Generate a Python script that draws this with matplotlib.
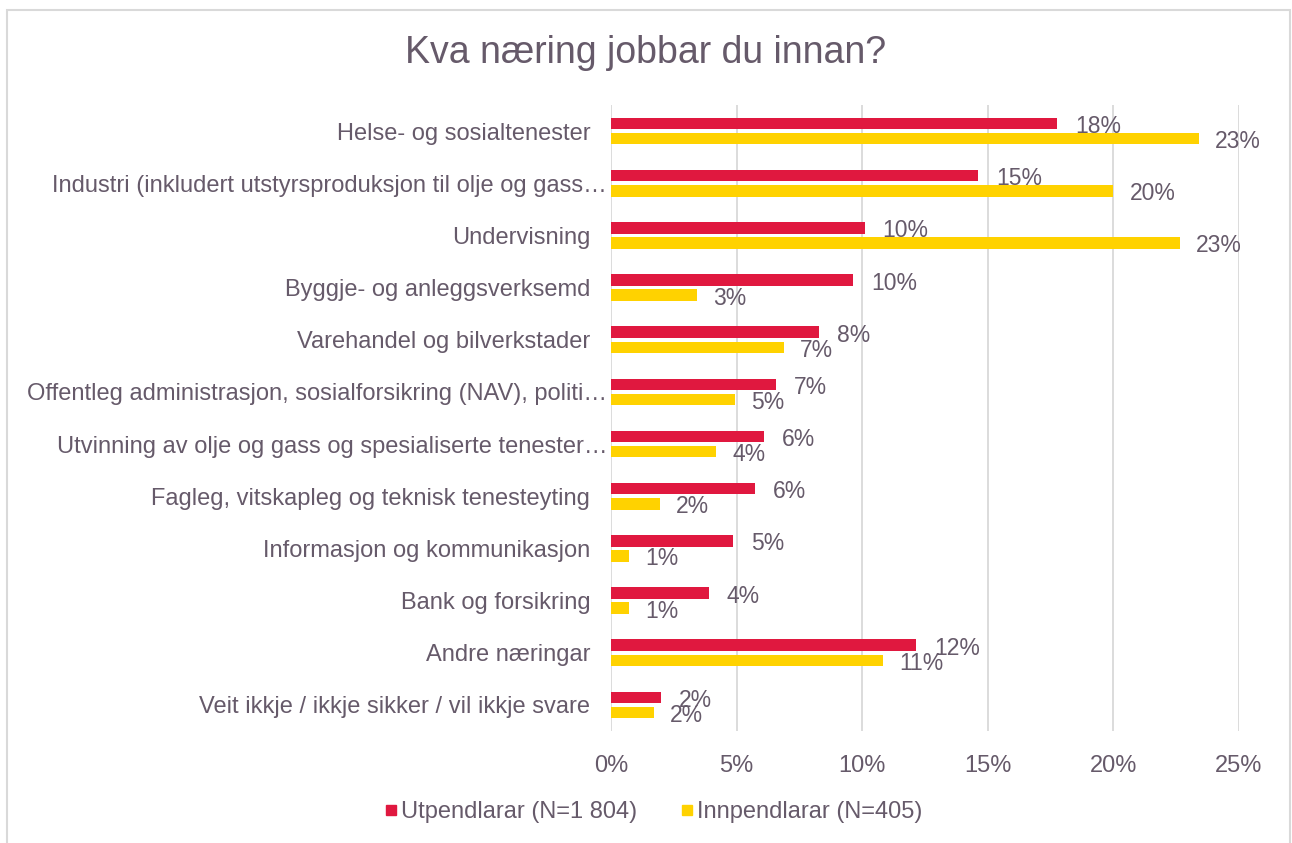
import numpy as np
import matplotlib
matplotlib.use("Agg")
import matplotlib.pyplot as plt
from matplotlib.patches import Rectangle
from matplotlib.lines import Line2D
from matplotlib.transforms import ScaledTranslation

plt.rcParams['font.family'] = ['Liberation Sans', 'DejaVu Sans']

# data (share of respondents)
kategoriar = [
    "Helse- og sosialtenester",
    "Industri (inkludert utstyrsproduksjon til olje og gass…",
    "Undervisning",
    "Byggje- og anleggsverksemd",
    "Varehandel og bilverkstader",
    "Offentleg administrasjon, sosialforsikring (NAV), politi…",
    "Utvinning av olje og gass og spesialiserte tenester…",
    "Fagleg, vitskapleg og teknisk tenesteyting",
    "Informasjon og kommunikasjon",
    "Bank og forsikring",
    "Andre næringar",
    "Veit ikkje / ikkje sikker / vil ikkje svare",
]
utpendlarar = [17.75, 14.6, 10.1, 9.63, 8.28, 6.57, 6.09, 5.73, 4.86, 3.9, 12.14, 1.99]
innpendlarar = [23.4, 20.0, 22.65, 3.42, 6.89, 4.94, 4.18, 1.95, 0.72, 0.72, 10.83, 1.71]
serienamn = ["Utpendlarar (N=1 804)", "Innpendlarar (N=405)"]
xticks = [0, 5, 10, 15, 20, 25]

RED = "#E0183F"
YEL = "#FFD200"
TXT = "#665a6a"
GRID = "#d9d9d9"

fig = plt.figure(figsize=(12.92, 8.43), dpi=100)
fig.patches.append(Rectangle((7 / 1292, -0.01), 1283 / 1292, 1 - 10 / 843 + 0.01,
                             transform=fig.transFigure, fill=False,
                             edgecolor=GRID, linewidth=1.5))

ax = fig.add_axes([611 / 1292, 1 - 731 / 843, (1239 - 611) / 1292, (731 - 105) / 843])

y = np.arange(len(kategoriar))
h = 0.22
ax.barh(y - 0.145, utpendlarar, height=h, color=RED, zorder=3)
ax.barh(y + 0.145, innpendlarar, height=h, color=YEL, zorder=3)

for i in range(len(kategoriar)):
    ax.annotate(f"{round(utpendlarar[i]):.0f}%", (utpendlarar[i], y[i] - 0.145),
                xytext=(18, -3), textcoords='offset pixels', va='center', ha='left',
                fontsize=16.5, color=TXT)
    ax.annotate(f"{round(innpendlarar[i]):.0f}%", (innpendlarar[i], y[i] + 0.145),
                xytext=(16, -3), textcoords='offset pixels', va='center', ha='left',
                fontsize=16.5, color=TXT)

ax.set_ylim(len(kategoriar) - 0.5, -0.5)
ax.set_xlim(0, 25)
ax.set_yticks(y)
ax.set_yticklabels(kategoriar, fontsize=17, color=TXT)
ax.set_xticks(xticks)
ax.set_xticklabels([f"{t}%" for t in xticks], fontsize=17, color=TXT)
ax.tick_params(axis='y', length=0, pad=15)
ax.tick_params(axis='x', length=0, pad=17)
for s in ax.spines.values():
    s.set_visible(False)
ax.xaxis.grid(True, color=GRID, linewidth=1.3, zorder=0)
ax.set_axisbelow(True)

# truncated labels sit closer to the axis, like in Excel
for lab in ax.get_yticklabels():
    if lab.get_text().endswith("…"):
        lab.set_transform(lab.get_transform() + ScaledTranslation(0.17, 0, fig.dpi_scale_trans))

fig.text(0.5, 1 - 53 / 843, "Kva næring jobbar du innan?", ha='center', va='center',
         fontsize=27, color=TXT)

handles = [Line2D([], [], marker='s', linestyle='none', markersize=7.5, color=c)
           for c in (RED, YEL)]
fig.legend(handles, serienamn, loc='center', bbox_to_anchor=(654 / 1292, 1 - 812 / 843),
           ncol=2, frameon=False, fontsize=17, labelcolor=TXT, handlelength=0.45,
           handletextpad=0.2, columnspacing=1.9)

fig.savefig("out.png", dpi=100)
